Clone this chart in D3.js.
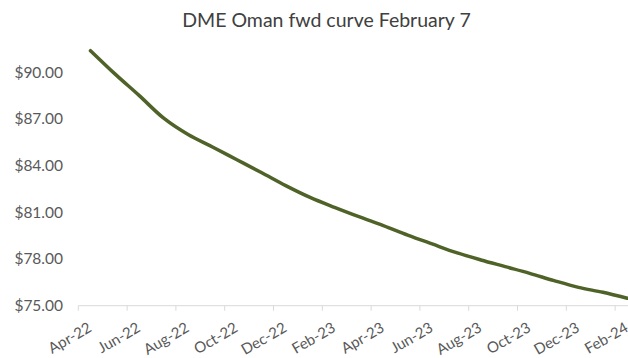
<!DOCTYPE html>
<html>
<head>
<meta charset="utf-8">
<script src="https://cdn.jsdelivr.net/npm/d3@7"></script>
<style>
  body { margin: 0; background: #fff; }
  text { font-family: Lato, "Open Sans", sans-serif; }
</style>
</head>
<body>
<div id="chart"></div>
<script>
// monthly contract months and settlement prices ($/bbl)
const months = ["Apr-22", "May-22", "Jun-22", "Jul-22", "Aug-22", "Sep-22", "Oct-22", "Nov-22",
  "Dec-22", "Jan-23", "Feb-23", "Mar-23", "Apr-23", "May-23", "Jun-23", "Jul-23", "Aug-23",
  "Sep-23", "Oct-23", "Nov-23", "Dec-23", "Jan-24", "Feb-24"];
const prices = [91.39, 89.90, 88.50, 87.05, 86.00, 85.20, 84.38, 83.56,
  82.72, 81.96, 81.32, 80.72, 80.15, 79.54, 78.97, 78.41, 77.94,
  77.51, 77.08, 76.61, 76.18, 75.86, 75.48];
const yTicks = [75, 78, 81, 84, 87, 90];
const title = "DME Oman fwd curve February 7";

const width = 628, height = 358;
const left = 78.3, bottom = 305.7;
const step = 24.4;

const svg = d3.select('#chart')
  .append('svg')
  .attr('width', width)
  .attr('height', height);

const x = d3.scaleBand()
  .domain(months)
  .range([left, left + step * months.length])
  .paddingInner(0).paddingOuter(0);

const y = d3.scaleLinear()
  .domain([75, 93])
  .range([bottom, bottom - 18 * 15.56]);

// title
svg.append('text')
  .attr('x', 326.5)
  .attr('y', 27)
  .attr('text-anchor', 'middle')
  .attr('fill', '#404040')
  .style('font-size', '19.5px')
  .text(title);

// y axis: labels only
const yAxis = svg.append('g')
  .attr('transform', 'translate(' + 63 + ',0)')
  .call(d3.axisLeft(y).tickValues(yTicks).tickSize(0).tickPadding(0)
    .tickFormat(d => '$' + d3.format('.2f')(d)));
yAxis.select('.domain').remove();
yAxis.selectAll('text')
  .attr('fill', '#595959')
  .style('font-size', '15.5px')
  .attr('font-family', null);

// x axis: ticks every two months on category boundaries
const xAxis = svg.append('g')
  .attr('transform', 'translate(0,' + bottom + ')');

xAxis.append('line')
  .attr('x1', left)
  .attr('x2', width)
  .attr('stroke', '#d9d9d9')
  .attr('stroke-width', 1);

xAxis.selectAll('.tick')
  .data(months.filter((m, i) => i % 2 === 0))
  .enter()
  .append('line')
  .attr('x1', d => x(d))
  .attr('x2', d => x(d))
  .attr('y1', 0)
  .attr('y2', 5)
  .attr('stroke', '#d9d9d9');

xAxis.selectAll('.lbl')
  .data(months.filter((m, i) => i % 2 === 0))
  .enter()
  .append('text')
  .attr('text-anchor', 'end')
  .attr('transform', d => 'translate(' + (x(d) + x.bandwidth() / 2 + 2) + ',25)rotate(-30)')
  .attr('fill', '#595959')
  .style('font-size', '15px')
  .text(d => d);

// curve
svg.append('path')
  .datum(prices)
  .attr('fill', 'none')
  .attr('stroke', '#4f6228')
  .attr('stroke-width', 3.5)
  .attr('stroke-linecap', 'round')
  .attr('d', d3.line()
    .curve(d3.curveCatmullRom)
    .x((d, i) => x(months[i]) + x.bandwidth() / 2)
    .y(d => y(d)));
</script>
</body>
</html>
